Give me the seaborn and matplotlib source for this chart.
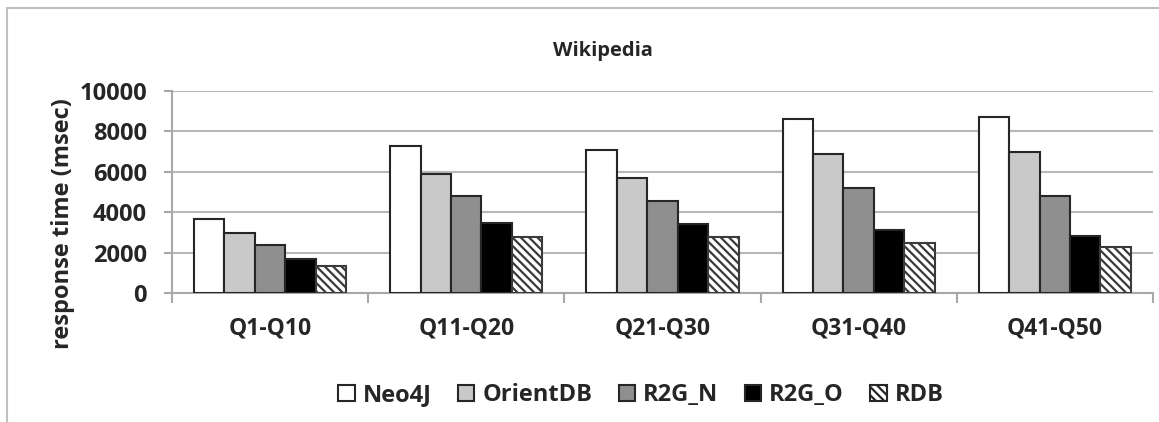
import matplotlib
matplotlib.use("Agg")
import matplotlib.pyplot as plt
import matplotlib.patches as mpatches
import seaborn as sns
import pandas as pd
import numpy as np

# data
query_groups = ["Q1-Q10", "Q11-Q20", "Q21-Q30", "Q31-Q40", "Q41-Q50"]
systems = ["Neo4J", "OrientDB", "R2G_N", "R2G_O", "RDB"]
neo4j = [3650, 7300, 7100, 8600, 8700]
orientdb = [2980, 5880, 5690, 6900, 7000]
r2g_n = [2380, 4780, 4570, 5190, 4790]
r2g_o = [1680, 3470, 3400, 3100, 2800]
rdb = [1360, 2750, 2760, 2470, 2260]

df = pd.DataFrame({
    "query": query_groups * 5,
    "system": np.repeat(systems, len(query_groups)),
    "time": neo4j + orientdb + r2g_n + r2g_o + rdb,
})

sns.set_theme(style="white")
plt.rcParams["font.family"] = ["Open Sans", "DejaVu Sans"]
plt.rcParams["font.weight"] = "bold"
plt.rcParams["hatch.linewidth"] = 1.6

palette = ["#ffffff", "#c9c9c9", "#8f8f8f", "#000000", "#ffffff"]

fig = plt.figure(figsize=(11.59, 4.22), dpi=100)
ax = fig.add_axes([0.1484, 0.3057, 0.8464, 0.4787])

# light gray frame around the chart area
fig.patches.append(mpatches.Rectangle((7 / 1159, -0.1), 1.2, 1 - 8 / 422 + 0.1,
                                      transform=fig.transFigure, fill=False,
                                      edgecolor="#c0c0c0", linewidth=1.5))

sns.barplot(data=df, x="query", y="time", hue="system", hue_order=systems,
            palette=palette, width=0.775, gap=0, edgecolor="#262626",
            linewidth=1.5, ax=ax, zorder=3)

# striped RDB bars
for bar in ax.containers[4]:
    bar.set_hatch("\\\\\\\\")
    bar.set_edgecolor("#3a3a3a")

ax.set_ylim(0, 10000)
ax.set_xlim(-0.5, 4.5)
ax.set_yticks(range(0, 10001, 2000))
ax.yaxis.grid(True, color="#b8b8b8", linewidth=1.5, zorder=0)
ax.set_axisbelow(True)

for side in ["top", "right"]:
    ax.spines[side].set_visible(False)
for side in ["left", "bottom"]:
    ax.spines[side].set_color("#a8a8a8")
    ax.spines[side].set_linewidth(1.5)

ax.tick_params(axis="y", left=True, length=6, width=1.5, color="#a8a8a8",
               pad=12, labelsize=17)
ax.tick_params(axis="x", which="major", length=0, pad=17, labelsize=16.5)
ax.set_xticks(np.arange(-0.5, 5, 1), minor=True)
ax.tick_params(axis="x", which="minor", bottom=True, length=7, width=1.5,
               color="#a8a8a8")
for lbl in ax.get_xticklabels() + ax.get_yticklabels():
    lbl.set_fontweight("bold")

ax.set_xlabel("")
ax.set_ylabel("response time (msec)", fontsize=17, fontweight="bold")
ax.yaxis.set_label_coords(-0.099, 0.342)

fig.text(0.52, 0.88, "Wikipedia", ha="center", va="center",
         fontsize=14.5, fontweight="bold")

sns.move_legend(ax, "center", bbox_to_anchor=(0.553, 0.063),
                bbox_transform=fig.transFigure, ncol=5, frameon=False,
                title=None, fontsize=17, handlelength=0.7, handleheight=0.7,
                handletextpad=0.35, columnspacing=1.1)
leg = ax.get_legend()
for t in leg.get_texts():
    t.set_fontweight("bold")
leg.legend_handles[4].set_hatch("\\\\\\\\")

fig.savefig("out.png", dpi=100)
